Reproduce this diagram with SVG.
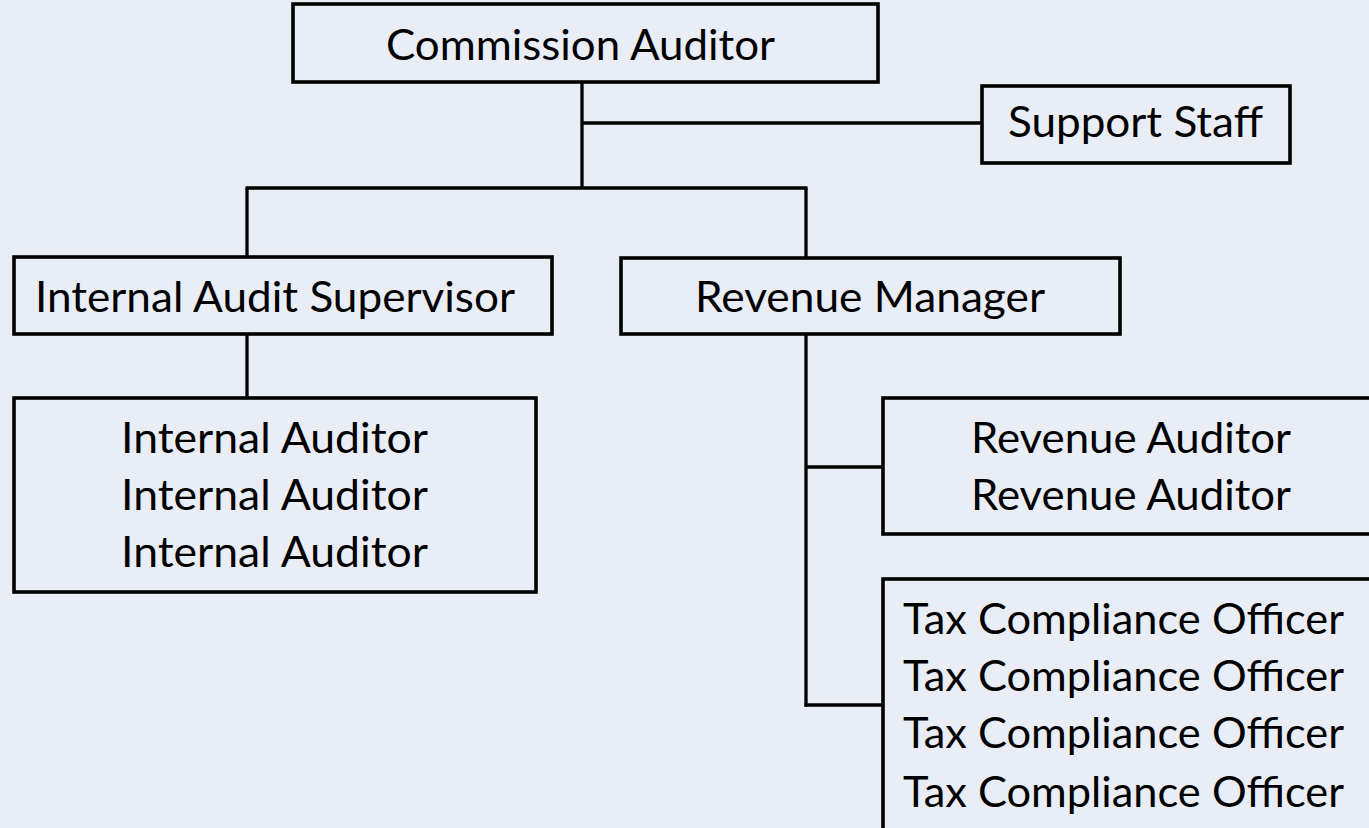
<svg xmlns="http://www.w3.org/2000/svg" width="1369" height="828" viewBox="0 0 1369 828">
  <style>
    .box { fill: #E9EDF6; stroke: #000; stroke-width: 3.6; }
    .ln { fill: none; stroke: #000; stroke-width: 3.3; }
    text { font-family: Lato, "Open Sans", "Liberation Sans", sans-serif; font-size: 43px; fill: #000; }
  </style>
  <rect x="0" y="0" width="1369" height="828" fill="#E9EDF6"/>
  <g id="connectors">
    <path class="ln" d="M582 82 V189"/>
    <path class="ln" d="M582 123 H982"/>
    <path class="ln" d="M245.5 188 H807.5"/>
    <path class="ln" d="M247 188 V257"/>
    <path class="ln" d="M806 188 V258"/>
    <path class="ln" d="M247 334 V398"/>
    <path class="ln" d="M806 334 V706.5"/>
    <path class="ln" d="M806 467 H883"/>
    <path class="ln" d="M804.5 705 H883"/>
  </g>
  <g id="commission-auditor">
    <rect class="box" x="293" y="4" width="585" height="78"/>
    <text x="386" y="60" textLength="389" lengthAdjust="spacingAndGlyphs">Commission Auditor</text>
  </g>
  <g id="support-staff">
    <rect class="box" x="982" y="86" width="308" height="77"/>
    <text x="1008" y="137" textLength="255" lengthAdjust="spacingAndGlyphs">Support Staff</text>
  </g>
  <g id="internal-audit-supervisor">
    <rect class="box" x="14" y="257" width="538" height="77"/>
    <text x="35" y="312" textLength="480" lengthAdjust="spacingAndGlyphs">Internal Audit Supervisor</text>
  </g>
  <g id="revenue-manager">
    <rect class="box" x="621" y="258" width="499" height="76"/>
    <text x="695" y="312" textLength="350" lengthAdjust="spacingAndGlyphs">Revenue Manager</text>
  </g>
  <g id="internal-auditors">
    <rect class="box" x="14" y="398" width="522" height="194"/>
    <text x="121" y="453" textLength="307" lengthAdjust="spacingAndGlyphs">Internal Auditor</text>
    <text x="121" y="510" textLength="307" lengthAdjust="spacingAndGlyphs">Internal Auditor</text>
    <text x="121" y="567" textLength="307" lengthAdjust="spacingAndGlyphs">Internal Auditor</text>
  </g>
  <g id="revenue-auditors">
    <rect class="box" x="883" y="398" width="500" height="136"/>
    <text x="971" y="453" textLength="320" lengthAdjust="spacingAndGlyphs">Revenue Auditor</text>
    <text x="971" y="510" textLength="320" lengthAdjust="spacingAndGlyphs">Revenue Auditor</text>
  </g>
  <g id="tax-compliance-officers">
    <rect class="box" x="883" y="579" width="500" height="300"/>
    <text x="903" y="634" textLength="441" lengthAdjust="spacingAndGlyphs">Tax Compliance Officer</text>
    <text x="903" y="691" textLength="441" lengthAdjust="spacingAndGlyphs">Tax Compliance Officer</text>
    <text x="903" y="748" textLength="441" lengthAdjust="spacingAndGlyphs">Tax Compliance Officer</text>
    <text x="903" y="807" textLength="441" lengthAdjust="spacingAndGlyphs">Tax Compliance Officer</text>
  </g>
</svg>
